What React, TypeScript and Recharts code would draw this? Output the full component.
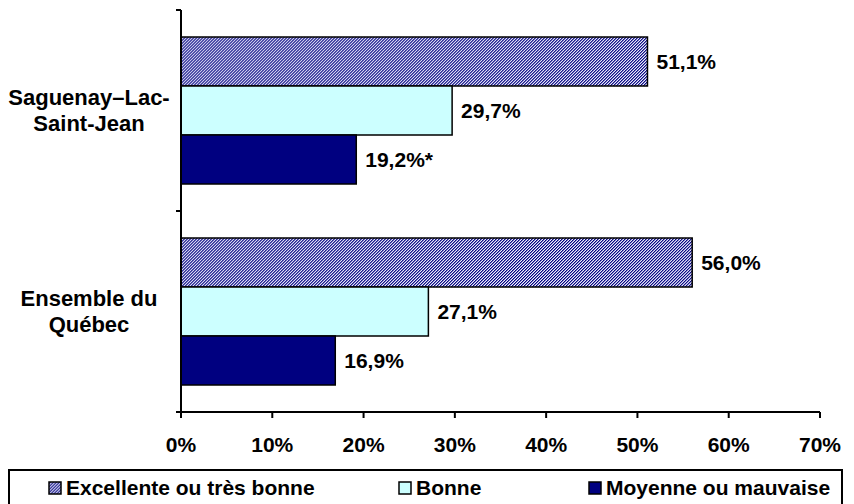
import React from "react";
import { BarChart, Bar, XAxis, YAxis, LabelList } from "recharts";

const categories = ["Saguenay–Lac-Saint-Jean", "Ensemble du Québec"];
const categoryLines = [
  ["Saguenay–Lac-", "Saint-Jean"],
  ["Ensemble du", "Québec"],
];
const seriesNames = ["Excellente ou très bonne", "Bonne", "Moyenne ou mauvaise"];
const excellente = [51.1, 56.0];
const bonne = [29.7, 27.1];
const moyenne = [19.2, 16.9];
const moyenneFlags = ["*", ""];
const xTicks = [0, 10, 20, 30, 40, 50, 60, 70];

const fmt = (v: number) => v.toFixed(1).replace(".", ",") + "%";

const data = categories.map((c, i) => ({
  cat: c,
  exc: excellente[i],
  bon: bonne[i],
  moy: moyenne[i],
  excLabel: fmt(excellente[i]),
  bonLabel: fmt(bonne[i]),
  moyLabel: fmt(moyenne[i]) + moyenneFlags[i],
}));

const FONT = "'Liberation Sans', Arial, sans-serif";
const NAVY = "#000080";
const CYAN = "#CCFFFF";

const CatTick = (props: any) => {
  const { x, y, payload } = props;
  const half =
    payload && typeof payload.offset === "number" && payload.offset > 0
      ? payload.offset
      : 100.5;
  const idx = categories.indexOf(payload.value);
  const lines = idx >= 0 ? categoryLines[idx] : [String(payload.value)];
  const cx = x - 92;
  return (
    <g>
      <line x1={x - 5} x2={x} y1={y - half} y2={y - half} stroke="#000" strokeWidth={2} />
      <line x1={x - 5} x2={x} y1={y + half} y2={y + half} stroke="#000" strokeWidth={2} />
      {lines.map((l, i) => (
        <text
          key={i}
          x={cx}
          y={y - 13 + i * 26}
          textAnchor="middle"
          dominantBaseline="central"
          fontFamily={FONT}
          fontWeight="bold"
          fontSize={22}
          fill="#000"
        >
          {l}
        </text>
      ))}
    </g>
  );
};

const labelStyle = { fontFamily: FONT, fontWeight: "bold", fontSize: 21, fill: "#000" } as any;

const HatchDef = ({ id }: { id: string }) => (
  <pattern id={id} width={2.12} height={2.12} patternUnits="userSpaceOnUse" patternTransform="rotate(45)">
    <rect width={2.12} height={2.12} fill="#f2f2ff" />
    <rect width={1.06} height={2.12} fill={NAVY} />
  </pattern>
);

const Icon = ({ kind }: { kind: number }) => (
  <svg width={14} height={14} style={{ display: "block" }}>
    <defs>
      <HatchDef id="hatchIcon" />
    </defs>
    <rect
      x={1}
      y={1}
      width={12}
      height={12}
      fill={kind === 0 ? "url(#hatchIcon)" : kind === 1 ? CYAN : NAVY}
      stroke="#000"
      strokeWidth={1.5}
    />
  </svg>
);

const legendPos = [{ icon: 48 }, { icon: 398 }, { icon: 588 }];

export default function App() {
  return (
    <div style={{ position: "absolute", left: 0, top: 0, width: 854, height: 504, overflow: "hidden", background: "#fff" }}>
      <BarChart
        width={854}
        height={504}
        data={data}
        layout="vertical"
        margin={{ top: 10, right: 34, bottom: 42, left: 0 }}
        barCategoryGap={27}
        barGap={0}
        style={{ fontFamily: FONT }}
      >
        <defs>
          <HatchDef id="hatch" />
        </defs>
        <XAxis
          type="number"
          domain={[0, 70]}
          ticks={xTicks}
          tickFormatter={(v: number) => v + "%"}
          axisLine={{ stroke: "#000", strokeWidth: 2 }}
          tickLine={{ stroke: "#000", strokeWidth: 2 }}
          tickSize={6}
          tickMargin={19}
          height={50}
          tick={{ fontFamily: FONT, fontWeight: "bold", fontSize: 21, fill: "#000" }}
          interval={0}
        />
        <YAxis
          type="category"
          dataKey="cat"
          width={181}
          axisLine={{ stroke: "#000", strokeWidth: 2 }}
          tickLine={false}
          tickSize={0}
          tickMargin={0}
          tick={<CatTick />}
          interval={0}
        />
        <Bar dataKey="exc" name={seriesNames[0]} fill="url(#hatch)" stroke="#000" strokeWidth={1.5} isAnimationActive={false}>
          <LabelList dataKey="excLabel" position="right" offset={9} style={labelStyle} />
        </Bar>
        <Bar dataKey="bon" name={seriesNames[1]} fill={CYAN} stroke="#000" strokeWidth={1.5} isAnimationActive={false}>
          <LabelList dataKey="bonLabel" position="right" offset={9} style={labelStyle} />
        </Bar>
        <Bar dataKey="moy" name={seriesNames[2]} fill={NAVY} stroke="#000" strokeWidth={1.5} isAnimationActive={false}>
          <LabelList dataKey="moyLabel" position="right" offset={9} style={labelStyle} />
        </Bar>
      </BarChart>
      <div
        style={{
          position: "absolute",
          left: 8,
          top: 469,
          width: 835,
          height: 35,
          borderTop: "2px solid #000",
          borderLeft: "2px solid #000",
          borderRight: "2px solid #000",
          boxSizing: "border-box",
          fontFamily: FONT,
          fontWeight: "bold",
          fontSize: 21,
          color: "#000",
        }}
      >
        {seriesNames.map((n, i) => (
          <div
            key={i}
            style={{
              position: "absolute",
              left: legendPos[i].icon - 10,
              top: 0,
              height: 33,
              display: "flex",
              alignItems: "center",
              whiteSpace: "nowrap",
            }}
          >
            <Icon kind={i} />
            <span style={{ marginLeft: 4 }}>{n}</span>
          </div>
        ))}
      </div>
    </div>
  );
}
